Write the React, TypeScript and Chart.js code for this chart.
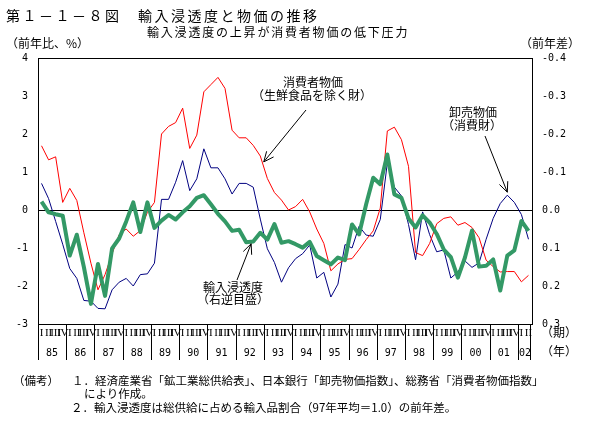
import React, { useEffect, useRef } from "react";
import { Chart, registerables } from "chart.js";

Chart.register(...registerables);

// ---- data ----
const years = ["85", "86", "87", "88", "89", "90", "91", "92", "93", "94", "95", "96", "97", "98", "99", "00", "01", "02"];
const quarterNames = ["I", "II", "III", "IV"];
const leftTickValues = [4, 3, 2, 1, 0, -1, -2, -3];
const rightTickValues = [-0.4, -0.3, -0.2, -0.1, 0.0, 0.1, 0.2, 0.3];

// 消費者物価（生鮮食品を除く財）前年比 %
const cpi = [
  1.69, 1.32, 1.40, 0.20, 0.57, 0.25, -0.60, -1.40, -2.10, -1.70,
  -1.15, -0.65, -0.50, -0.69, -0.54, -0.06, 0.20, 2.00, 2.20, 2.30,
  2.68, 1.62, 1.97, 3.11, 3.30, 3.49, 3.20, 2.10, 1.90, 1.90,
  1.70, 1.42, 0.83, 0.46, 0.26, 0.00, 0.09, 0.28, -0.05, -0.50,
  -0.88, -1.60, -1.42, -1.30, -1.28, -1.04, -0.78, -0.55, 0.05, 2.08,
  2.18, 1.85, 1.15, -1.12, -1.20, -0.88, -0.36, -0.22, -0.18, -0.40,
  -0.33, -0.46, -0.73, -1.32, -1.49, -1.63, -1.62, -1.62, -1.89, -1.72,
];

// 卸売物価（消費財）前年比 %
const wpi = [
  0.70, 0.30, -0.30, -0.90, -1.54, -1.80, -2.38, -2.40, -2.59, -2.60,
  -2.10, -1.90, -1.80, -2.00, -1.70, -1.68, -1.40, 0.28, 0.28, 0.73,
  1.30, 0.51, 0.82, 1.61, 1.11, 1.11, 0.82, 0.42, 0.70, 0.70,
  0.60, -0.24, -1.02, -1.38, -1.90, -1.52, -1.28, -1.15, -0.92, -1.79,
  -1.64, -2.29, -1.95, -0.91, -1.00, -0.43, -0.66, -0.69, -0.25, 1.24,
  0.60, 0.37, -0.38, -1.31, -0.05, -0.65, -1.10, -1.05, -1.79, -1.63,
  -1.34, -1.51, -1.39, -0.77, -0.22, 0.17, 0.39, 0.20, -0.12, -0.77,
];

// 輸入浸透度 前年差（右逆目盛）
const imp = [
  -0.022, 0.006, 0.011, 0.015, 0.120, 0.065, 0.150, 0.247, 0.142, 0.226,
  0.101, 0.075, 0.030, -0.020, 0.058, -0.020, 0.047, 0.028, 0.013, 0.025,
  0.006, -0.010, -0.032, -0.039, -0.015, 0.010, 0.030, 0.055, 0.052, 0.085,
  0.083, 0.060, 0.078, 0.037, 0.086, 0.082, 0.090, 0.099, 0.084, 0.121,
  0.132, 0.143, 0.125, 0.132, 0.038, 0.064, -0.015, -0.085, -0.068, -0.146,
  -0.041, -0.032, 0.022, 0.046, 0.014, 0.033, 0.063, 0.104, 0.124, 0.178,
  0.125, 0.054, 0.149, 0.147, 0.130, 0.212, 0.120, 0.106, 0.029, 0.055,
];

const quarterLabels: string[] = [];
years.forEach((y, yi) => {
  const n = yi === years.length - 1 ? 2 : 4;
  for (let q = 0; q < n; q++) quarterLabels.push(`${y}-${quarterNames[q]}`);
});

const FONT_JP = "'Noto Sans CJK JP', 'Noto Sans', sans-serif";
const FONT_NUM = "'DejaVu Sans Mono', monospace";

function drawArrow(ctx: CanvasRenderingContext2D, x1: number, y1: number, x2: number, y2: number) {
  const ang = Math.atan2(y2 - y1, x2 - x1);
  const len = 11;
  const spread = 0.42;
  ctx.beginPath();
  ctx.moveTo(x1, y1);
  ctx.lineTo(x2, y2);
  ctx.moveTo(x2, y2);
  ctx.lineTo(x2 - len * Math.cos(ang - spread), y2 - len * Math.sin(ang - spread));
  ctx.moveTo(x2, y2);
  ctx.lineTo(x2 - len * Math.cos(ang + spread), y2 - len * Math.sin(ang + spread));
  ctx.stroke();
}

const decorPlugin = {
  id: "decor",
  afterDraw(chart: any) {
    const { ctx, chartArea } = chart;
    const xs = chart.scales.x;
    const ys = chart.scales.y;
    const y2s = chart.scales.y2;
    const n = quarterLabels.length;
    const step = (chartArea.right - chartArea.left) / n;
    ctx.save();
    ctx.strokeStyle = "#000";
    ctx.lineWidth = 1;
    // top border
    ctx.beginPath();
    ctx.moveTo(chartArea.left, chartArea.top + 0.5);
    ctx.lineTo(chartArea.right, chartArea.top + 0.5);
    ctx.stroke();
    // year separators + labels
    ctx.fillStyle = "#000";
    ctx.font = `10px ${FONT_NUM}`;
    ctx.textAlign = "center";
    ctx.textBaseline = "middle";
    years.forEach((y, yi) => {
      const start = yi * 4;
      const end = Math.min(start + 4, n);
      const xa = Math.round(chartArea.left + start * step) + 0.5;
      ctx.beginPath();
      ctx.moveTo(xa, chartArea.bottom);
      ctx.lineTo(xa, chartArea.bottom + 36);
      ctx.stroke();
      const xc = chartArea.left + ((start + end) / 2) * step;
      ctx.fillText(y, xc, chartArea.bottom + 29);
    });
    const xe = Math.round(chartArea.right) - 1.5;
    ctx.beginPath();
    ctx.moveTo(xe, chartArea.bottom);
    ctx.lineTo(xe, chartArea.bottom + 36);
    ctx.stroke();

    // arrows
    const lerp = (a: number, b: number, t: number) => a + (b - a) * t;
    // 消費者物価
    {
      const t = 0.35;
      const x = lerp(xs.getPixelForValue(31), xs.getPixelForValue(32), t);
      const y = lerp(ys.getPixelForValue(cpi[31]), ys.getPixelForValue(cpi[32]), t);
      drawArrow(ctx, 306, 110, x + 1, y - 2);
    }
    // 卸売物価
    {
      const x = xs.getPixelForValue(66);
      const y = ys.getPixelForValue(wpi[66]);
      drawArrow(ctx, 485, 136, x, y - 3);
    }
    // 輸入浸透度
    {
      const t = 0.7;
      const x = lerp(xs.getPixelForValue(29), xs.getPixelForValue(30), t);
      const y = lerp(y2s.getPixelForValue(imp[29]), y2s.getPixelForValue(imp[30]), t);
      drawArrow(ctx, 237, 280, x, y + 2);
    }
    ctx.restore();
  },
};

export default function App() {
  const ref = useRef<HTMLCanvasElement>(null);

  useEffect(() => {
    const canvas = ref.current!;
    const chart = new Chart(canvas, {
      type: "line",
      data: {
        labels: quarterLabels,
        datasets: [
          {
            label: "輸入浸透度（右逆目盛）",
            data: imp,
            yAxisID: "y2",
            borderColor: "#339966",
            borderWidth: 4,
            order: 0,
          },
          {
            label: "消費者物価（生鮮食品を除く財）",
            data: cpi,
            yAxisID: "y",
            borderColor: "#ff0000",
            borderWidth: 1,
            order: 1,
          },
          {
            label: "卸売物価（消費財）",
            data: wpi,
            yAxisID: "y",
            borderColor: "#000080",
            borderWidth: 1,
            order: 2,
          },
        ],
      },
      options: {
        animation: false,
        responsive: false,
        maintainAspectRatio: false,
        layout: { padding: { top: 58, left: 0, right: 0, bottom: 0 } },
        plugins: { legend: { display: false }, tooltip: { enabled: false } },
        elements: { point: { radius: 0 }, line: { tension: 0, borderJoinStyle: "round" } },
        scales: {
          x: {
            type: "category",
            offset: true,
            grid: { display: false, drawTicks: false },
            border: { display: true, color: "#000", width: 1 },
            ticks: {
              autoSkip: false,
              maxRotation: 0,
              minRotation: 0,
              padding: 3,
              color: "#000",
              font: { family: "'Liberation Serif', serif", size: 11 },
              callback: (_v: any, i: number) => quarterNames[i % 4],
            },
            afterFit: (s: any) => {
              s.height = 102;
            },
          },
          y: {
            position: "left",
            min: -3,
            max: 4,
            afterBuildTicks: (s: any) => {
              s.ticks = leftTickValues.map((v) => ({ value: v }));
            },
            ticks: {
              padding: 10,
              color: "#000",
              font: { family: FONT_NUM, size: 10 },
              callback: (v: any) => String(v),
            },
            grid: {
              drawTicks: false,
              color: (c: any) => (c.tick && c.tick.value === 0 ? "#000" : "rgba(0,0,0,0)"),
            },
            border: { display: true, color: "#000", width: 1 },
            afterFit: (s: any) => {
              s.width = 38;
            },
          },
          y2: {
            position: "right",
            min: -0.4,
            max: 0.3,
            reverse: true,
            afterBuildTicks: (s: any) => {
              s.ticks = rightTickValues.map((v) => ({ value: v }));
            },
            ticks: {
              padding: 10,
              color: "#000",
              font: { family: FONT_NUM, size: 10 },
              callback: (v: any) => (Math.abs(v) < 1e-9 ? "0.0" : Number(v).toFixed(1)),
            },
            grid: { display: false, drawTicks: false },
            border: { display: true, color: "#000", width: 1 },
            afterFit: (s: any) => {
              s.width = 66;
            },
          },
        },
      },
      plugins: [decorPlugin],
    } as any);
    return () => chart.destroy();
  }, []);

  const abs = (extra: React.CSSProperties): React.CSSProperties => ({
    position: "absolute",
    whiteSpace: "nowrap",
    lineHeight: 1,
    ...extra,
  });
  const centered = (cx: number, top: number, text: string) => (
    <div style={abs({ left: cx - 100, width: 200, top, textAlign: "center", fontSize: 12 })}>{text}</div>
  );

  return (
    <div
      style={{
        position: "absolute",
        left: 0,
        top: 0,
        width: 598,
        height: 426,
        background: "#fff",
        fontFamily: FONT_JP,
        color: "#000",
        overflow: "hidden",
      }}
    >
      <canvas ref={ref} width={598} height={426} style={{ position: "absolute", left: 0, top: 0, width: 598, height: 426 }} />
      <div style={abs({ left: 6, top: 8, fontSize: 14, letterSpacing: 2.5 })}>第１－１－８図　輸入浸透度と物価の推移</div>
      <div style={abs({ left: 147, top: 26, fontSize: 12, letterSpacing: 1.8 })}>輸入浸透度の上昇が消費者物価の低下圧力</div>
      <div style={abs({ left: 6, top: 37, fontSize: 12 })}>（前年比、%）</div>
      <div style={abs({ left: 520, top: 37, fontSize: 12 })}>（前年差）</div>

      {centered(313, 76, "消費者物価")}
      {centered(312, 89, "（生鮮食品を除く財）")}
      {centered(473, 106, "卸売物価")}
      {centered(472, 119, "（消費財）")}
      {centered(233, 281, "輸入浸透度")}
      {centered(233, 293, "（右逆目盛）")}

      <div style={abs({ left: 541, top: 326, fontSize: 12 })}>（期）</div>
      <div style={abs({ left: 541, top: 345, fontSize: 12 })}>（年）</div>

      <div style={abs({ left: 13, top: 375, fontSize: 11.5 })}>（備考）</div>
      <div style={abs({ left: 72, top: 375, fontSize: 11.5 })}>１．経済産業省「鉱工業総供給表」、日本銀行「卸売物価指数」、総務省「消費者物価指数」</div>
      <div style={abs({ left: 84, top: 388, fontSize: 11.5 })}>により作成。</div>
      <div style={abs({ left: 71, top: 402, fontSize: 11.5 })}>２．輸入浸透度は総供給に占める輸入品割合（97年平均＝1.0）の前年差。</div>
    </div>
  );
}
